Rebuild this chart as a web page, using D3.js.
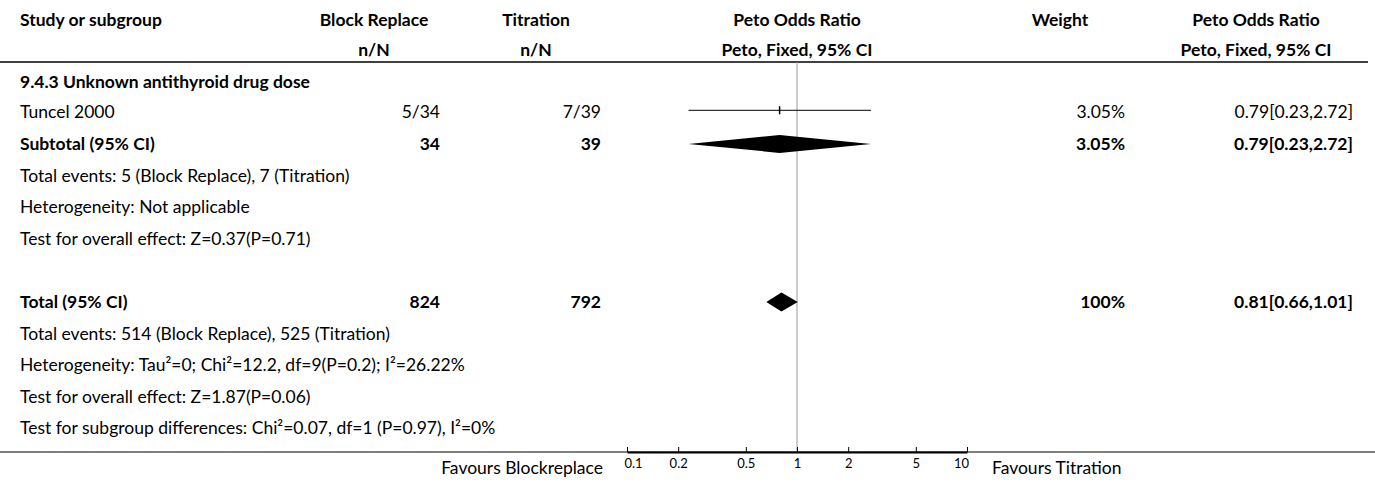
<!DOCTYPE html>
<meta charset="utf-8">
<style>
body { margin: 0; background: #fff; }
svg text { font-family: Lato, "Noto Sans", sans-serif; font-size: 17.5px; fill: #000; }
.b { font-weight: bold; }
.axis text { font-size: 13px; font-family: Lato, sans-serif; }
</style>
<body>
<svg width="1375" height="484"></svg>
<script src="https://d3js.org/d3.v7.min.js"></script>
<script>
// data
var studyNames = ["Tuncel 2000"];
var blockN = ["5/34"], titN = ["7/39"];
var studyWeight = ["3.05%"];
var studyOR = [0.79], studyLo = [0.23], studyHi = [2.72];

var subgroupTitle = "9.4.3 Unknown antithyroid drug dose";
var subtotalTotals = [34, 39];
var subtotalCI = [0.79, 0.23, 2.72];
var subtotalWeight = "3.05%";
var subtotalNotes = [
  "Total events: 5 (Block Replace), 7 (Titration)",
  "Heterogeneity: Not applicable",
  "Test for overall effect: Z=0.37(P=0.71)"
];

var totalTotals = [824, 792];
var totalCI = [0.81, 0.66, 1.01];
var totalWeight = "100%";
var totalNotes = [
  "Total events: 514 (Block Replace), 525 (Titration)",
  "Heterogeneity: Tau\u00b2=0; Chi\u00b2=12.2, df=9(P=0.2); I\u00b2=26.22%",
  "Test for overall effect: Z=1.87(P=0.06)",
  "Test for subgroup differences: Chi\u00b2=0.07, df=1 (P=0.97), I\u00b2=0%"
];

var tickValues = [0.1, 0.2, 0.5, 1, 2, 5, 10];

var svg = d3.select("svg"),
    width = +svg.attr("width");

var x = d3.scaleLog().domain([0.1, 10]).range([627, 967]);
var row = d3.scaleLinear().domain([0, 13]).range([17.5, 428.3]);
var axisY = 452;

function fmt(c) { return c[0].toFixed(2) + "[" + c[1].toFixed(2) + "," + c[2].toFixed(2) + "]"; }

function txt(r, xpos, s, anchor, bold, shift) {
  svg.append("text")
    .attr("x", xpos).attr("y", row(r) + (shift || 0)).attr("dy", "0.35em")
    .attr("text-anchor", anchor || "start")
    .attr("class", bold ? "b" : null)
    .text(s);
}

// headers (sit a touch lower than the regular row grid)
txt(0, 20, "Study or subgroup", "start", true, 2);
txt(0, 374, "Block Replace", "middle", true, 2);
txt(1, 374, "n/N", "middle", true, 1);
txt(0, 536, "Titration", "middle", true, 2);
txt(1, 536, "n/N", "middle", true, 1);
txt(0, 797, "Peto Odds Ratio", "middle", true, 2);
txt(1, 797, "Peto, Fixed, 95% CI", "middle", true, 1);
txt(0, 1060, "Weight", "middle", true, 2);
txt(0, 1256, "Peto Odds Ratio", "middle", true, 2);
txt(1, 1256, "Peto, Fixed, 95% CI", "middle", true, 1);

svg.append("line").attr("x1", 0).attr("x2", 1368).attr("y1", 62).attr("y2", 62)
  .attr("stroke", "#000").attr("stroke-width", 1.5);

// null line
svg.append("line").attr("x1", x(1)).attr("x2", x(1)).attr("y1", 62).attr("y2", axisY)
  .attr("stroke", "#999").attr("stroke-width", 1);

// subgroup
txt(2, 20, subgroupTitle, "start", true, 1);
studyNames.forEach(function(n, i) {
  var r = 3 + i;
  txt(r, 20, n);
  txt(r, 440, blockN[i], "end");
  txt(r, 601, titN[i], "end");
  txt(r, 1125, studyWeight[i], "end");
  txt(r, 1353, fmt([studyOR[i], studyLo[i], studyHi[i]]), "end");
  svg.append("line").attr("x1", x(studyLo[i])).attr("x2", x(studyHi[i]))
    .attr("y1", row(r) - 2).attr("y2", row(r) - 2).attr("stroke", "#000").attr("stroke-width", 1);
  svg.append("rect").attr("x", x(studyOR[i]) - 0.75).attr("y", row(r) - 6)
    .attr("width", 1.5).attr("height", 8).attr("fill", "#000");
});

function diamond(r, c, h) {
  var y = row(r);
  svg.append("path")
    .attr("d", "M" + x(c[1]) + "," + y + "L" + x(c[0]) + "," + (y - h) +
      "L" + x(c[2]) + "," + y + "L" + x(c[0]) + "," + (y + h) + "Z")
    .attr("fill", "#000");
}

txt(4, 20, "Subtotal (95% CI)", "start", true);
txt(4, 440, subtotalTotals[0], "end", true);
txt(4, 601, subtotalTotals[1], "end", true);
txt(4, 1125, subtotalWeight, "end", true);
txt(4, 1353, fmt(subtotalCI), "end", true);
diamond(4, subtotalCI, 9);
subtotalNotes.forEach(function(s, i) { txt(5 + i, 20, s); });

txt(9, 20, "Total (95% CI)", "start", true);
txt(9, 440, totalTotals[0], "end", true);
txt(9, 601, totalTotals[1], "end", true);
txt(9, 1125, totalWeight, "end", true);
txt(9, 1353, fmt(totalCI), "end", true);
diamond(9, totalCI, 9.5);
totalNotes.forEach(function(s, i) { txt(10 + i, 20, s); });

// bottom rule and axis
svg.append("line").attr("x1", 0).attr("x2", width).attr("y1", axisY).attr("y2", axisY)
  .attr("stroke", "#000").attr("stroke-width", 1);

var axis = svg.append("g").attr("class", "axis")
  .attr("transform", "translate(0," + axisY + ")")
  .call(d3.axisBottom(x).tickValues(tickValues).tickFormat(d3.format("")).tickSizeInner(-5).tickSizeOuter(0).tickPadding(7));
axis.select(".domain").attr("stroke-width", 2);
// keep end labels inside the axis span
axis.selectAll(".tick text").attr("dx", function(d) { return d === 0.1 ? 6 : d === 10 ? -6 : 0; });

svg.append("text").attr("x", 603).attr("y", axisY + 16).attr("dy", "0.35em")
  .attr("text-anchor", "end").text("Favours Blockreplace");
svg.append("text").attr("x", 992).attr("y", axisY + 16).attr("dy", "0.35em")
  .text("Favours Titration");
</script>
</body>
